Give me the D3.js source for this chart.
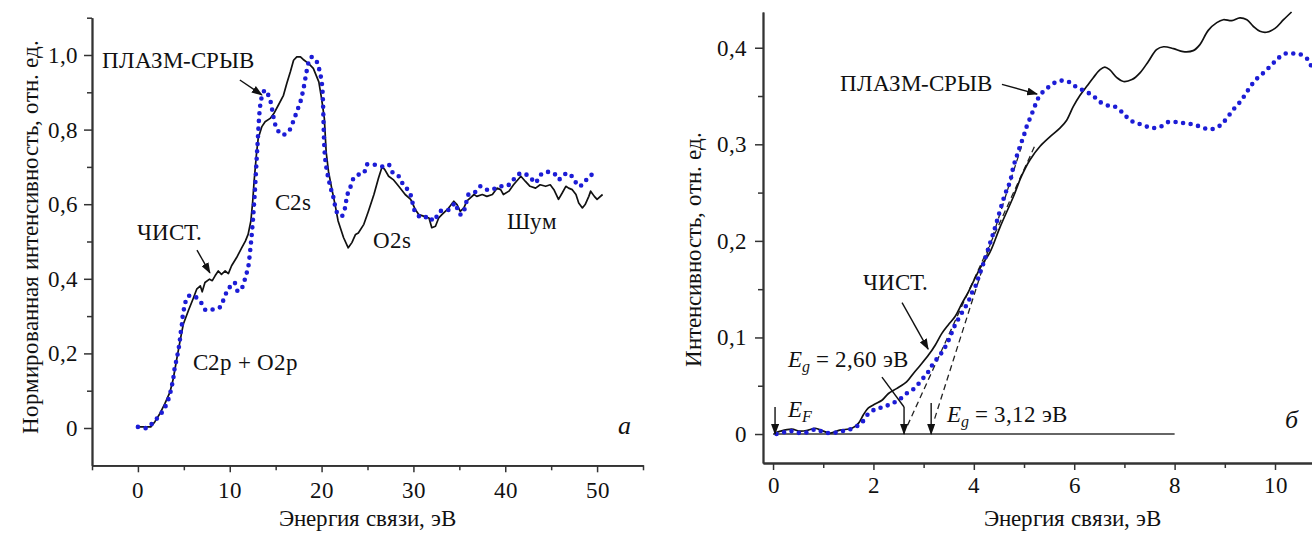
<!DOCTYPE html>
<html><head><meta charset="utf-8">
<script src="https://cdn.jsdelivr.net/npm/d3@7"></script>
<style>
@font-face{font-family:"RefSerif";font-style:normal;font-weight:400;
  src:local("Liberation Serif"),local("LiberationSerif"),local("LiberationSerif-Regular"),local("Liberation Serif Regular"),local("Times New Roman"),local("Tinos"),local("DejaVu Serif"),local("DejaVuSerif"),local("Noto Serif"),local("NotoSerif-Regular");}
@font-face{font-family:"RefSerif";font-style:italic;font-weight:400;
  src:local("Liberation Serif Italic"),local("LiberationSerif-Italic"),local("Times New Roman Italic"),local("DejaVu Serif Italic"),local("DejaVuSerif-Italic"),local("Noto Serif Italic");}
html,body{margin:0;padding:0;background:#fff;}
svg text{font-family:"RefSerif","Liberation Serif","DejaVu Serif","Noto Serif",serif;fill:#111;}
</style></head>
<body>
<svg id="c" width="1312" height="533"></svg>
<script>
// ---------- Panel a data ----------
const aCleanE = [0.2,0.95,1.4,1.85,2.4,2.95,3.5,3.85,4.2,4.6,4.95,5.5,6.0,6.4,6.8,7.0,7.3,7.8,8.1,8.4,8.75,9.1,9.5,9.85,10.2,10.75,11.3,11.7,12.0,12.3,12.5,12.65,12.9,13.1,13.5,13.85,14.4,14.8,15.3,15.85,16.2,16.6,16.95,17.3,17.7,18.0,18.6,19.1,19.7,20.0,20.3,20.5,20.75,21.1,21.5,21.8,22.4,22.9,23.3,23.7,24.0,24.6,25.1,25.7,26.2,26.6,26.9,27.3,27.8,28.4,29.1,29.7,30.2,30.6,31.1,31.7,32.0,32.4,32.75,33.1,33.7,34.0,34.4,34.75,35.1,35.5,35.8,36.2,36.6,36.9,37.5,38.0,38.6,39.1,39.5,39.8,40.4,40.9,41.7,42.2,42.7,43.3,43.8,44.4,44.9,45.3,45.8,46.2,46.6,46.9,47.3,47.7,48.0,48.4,48.7,49.1,49.3,49.7,50.0,50.6];
const aCleanI = [0.003,0.003,0.003,0.017,0.039,0.066,0.097,0.132,0.181,0.235,0.279,0.315,0.346,0.372,0.381,0.365,0.39,0.399,0.395,0.408,0.421,0.412,0.421,0.414,0.435,0.457,0.483,0.501,0.519,0.555,0.608,0.661,0.732,0.777,0.808,0.821,0.83,0.843,0.866,0.892,0.923,0.955,0.986,0.995,0.995,0.988,0.977,0.964,0.928,0.883,0.83,0.74,0.688,0.643,0.595,0.555,0.51,0.483,0.497,0.519,0.523,0.546,0.581,0.626,0.67,0.701,0.692,0.675,0.666,0.648,0.626,0.613,0.586,0.572,0.568,0.563,0.537,0.541,0.563,0.572,0.586,0.595,0.608,0.599,0.581,0.59,0.608,0.617,0.626,0.621,0.626,0.621,0.626,0.643,0.639,0.626,0.635,0.652,0.675,0.661,0.648,0.643,0.652,0.648,0.652,0.639,0.613,0.63,0.648,0.643,0.639,0.626,0.603,0.59,0.599,0.621,0.635,0.621,0.613,0.626];
const aPlasmaE = [0,0.95,1.7,2.5,3.0,3.4,3.67,3.85,4.0,4.2,4.4,4.55,4.65,4.8,4.9,5.1,5.4,6.0,6.8,7.4,8.3,9.0,9.4,9.85,10.5,10.9,11.4,11.7,12.0,12.2,12.4,12.7,13.0,13.3,13.5,13.85,14.4,14.75,15.1,15.7,16.4,16.9,17.3,17.7,18.0,18.3,18.6,18.95,19.5,19.8,20.05,20.4,20.9,21.3,21.7,22.2,22.6,22.75,23.1,23.5,24.0,24.6,24.9,25.7,26.6,27.3,27.8,28.4,28.9,29.5,29.85,30.0,30.6,31.1,31.7,32.2,32.9,33.7,34.2,34.6,34.9,35.3,35.7,36.0,36.6,37.3,38.0,38.6,39.3,39.9,40.4,40.9,41.7,42.6,43.3,43.7,44.4,45.3,45.8,46.4,46.9,47.5,48.0,48.6,49.1,50.0];
const aPlasmaI = [0.003,0.0,0.016,0.038,0.058,0.083,0.11,0.133,0.16,0.183,0.208,0.232,0.254,0.28,0.304,0.328,0.352,0.355,0.339,0.316,0.319,0.325,0.35,0.372,0.39,0.366,0.379,0.404,0.43,0.47,0.52,0.62,0.75,0.861,0.888,0.906,0.879,0.835,0.804,0.786,0.795,0.821,0.848,0.875,0.906,0.946,0.981,0.995,0.981,0.955,0.92,0.72,0.652,0.617,0.577,0.568,0.595,0.621,0.643,0.67,0.679,0.683,0.706,0.706,0.701,0.706,0.683,0.675,0.652,0.635,0.613,0.59,0.568,0.563,0.568,0.555,0.581,0.583,0.595,0.603,0.577,0.572,0.599,0.626,0.63,0.648,0.639,0.639,0.648,0.648,0.652,0.666,0.683,0.675,0.657,0.675,0.686,0.683,0.666,0.679,0.683,0.666,0.648,0.657,0.675,0.683];
const aXTicks = [0,10,20,30,40,50];
const aXMinor = [-5,5,15,25,35,45,55];
const aYTicks = [0,0.2,0.4,0.6,0.8,1.0];
const aYTickLabels = ["0","0,2","0,4","0,6","0,8","1,0"];
const aYMinor = [0.1,0.3,0.5,0.7,0.9,1.1];

// ---------- Panel б data ----------
const bCleanE = [0.04,0.15,0.37,0.54,0.7,0.84,1.0,1.14,1.33,1.57,1.7,1.8,1.9,2.03,2.17,2.3,2.46,2.66,2.8,2.93,3.1,3.23,3.36,3.49,3.63,3.76,3.89,4.02,4.16,4.32,4.52,4.79,4.95,5.12,5.32,5.52,5.72,5.85,5.98,6.12,6.25,6.38,6.51,6.61,6.71,6.85,6.98,7.15,7.31,7.48,7.64,7.78,7.98,8.17,8.37,8.5,8.67,8.84,8.97,9.14,9.3,9.44,9.57,9.7,9.83,10.0,10.17,10.33];
const bCleanI = [0.001,0.003,0.005,0.003,0.004,0.006,0.003,0.001,0.004,0.006,0.011,0.02,0.027,0.031,0.035,0.042,0.047,0.054,0.063,0.071,0.082,0.092,0.104,0.113,0.122,0.135,0.147,0.161,0.175,0.188,0.214,0.246,0.267,0.284,0.298,0.308,0.317,0.325,0.339,0.351,0.36,0.369,0.377,0.38,0.377,0.369,0.365,0.367,0.374,0.386,0.398,0.401,0.399,0.396,0.397,0.403,0.418,0.426,0.429,0.428,0.431,0.429,0.422,0.417,0.416,0.42,0.429,0.437];
const bPlasmaE = [0.07,0.24,0.39,0.54,0.7,0.86,1.0,1.15,1.3,1.45,1.6,1.77,1.9,2.05,2.2,2.34,2.5,2.66,2.81,2.96,3.1,3.19,3.33,3.45,3.53,3.6,3.68,3.79,3.89,3.96,4.04,4.11,4.16,4.4,4.62,4.72,4.79,4.85,4.92,4.99,5.05,5.12,5.19,5.25,5.32,5.46,5.62,5.77,5.92,6.05,6.22,6.38,6.51,6.68,6.81,6.98,7.11,7.25,7.41,7.54,7.71,7.87,8.04,8.17,8.32,8.47,8.64,8.77,8.92,9.04,9.17,9.29,9.4,9.5,9.62,9.77,9.93,10.06,10.21,10.36,10.51,10.65,10.75];
const bPlasmaI = [0,0.002,0.003,0.001,0.002,0.005,0.002,0.001,0.002,0.004,0.006,0.012,0.021,0.026,0.028,0.031,0.035,0.042,0.047,0.056,0.065,0.073,0.082,0.092,0.101,0.11,0.118,0.128,0.137,0.146,0.154,0.165,0.172,0.21,0.248,0.261,0.277,0.287,0.298,0.308,0.318,0.327,0.336,0.344,0.351,0.358,0.364,0.366,0.364,0.359,0.355,0.35,0.344,0.34,0.339,0.332,0.325,0.322,0.319,0.317,0.318,0.323,0.323,0.322,0.321,0.319,0.316,0.316,0.32,0.327,0.336,0.343,0.351,0.359,0.367,0.374,0.382,0.389,0.394,0.394,0.393,0.388,0.377];
const bTangentCleanE = [2.68, 5.22];
const bTangentCleanI = [0.009, 0.299];
const bTangentPlasmaE = [3.22, 4.95];
const bTangentPlasmaI = [0.016, 0.298];
const bZeroE = [0, 8];
const bXTicks = [0,2,4,6,8,10];
const bXMinor = [1,3,5,7,9,11];
const bYTicks = [0,0.1,0.2,0.3,0.4];
const bYTickLabels = ["0","0,1","0,2","0,3","0,4"];
const bYMinor = [0.05,0.15,0.25,0.35];

const BLUE = "#1c1cd6";
const svg = d3.select("#c");

function draw(){
svg.selectAll("*").remove();
// calibrate font size so a known label has the reference width (153 px)
const probe = svg.append("text").style("font-size","23px").text("ПЛАЗМ-СРЫВ");
const pw = probe.node().getComputedTextLength();
probe.remove();
const FONT = Math.max(16, Math.min(26, 23 * 153 / (pw || 153)));
const SUB = FONT * 0.7;

const defs = svg.append("defs");
defs.append("marker").attr("id","ah").attr("markerUnits","userSpaceOnUse")
  .attr("markerWidth",11).attr("markerHeight",8).attr("refX",10).attr("refY",4)
  .attr("orient","auto")
  .append("path").attr("d","M0,0 L11,4 L0,8 Z").attr("fill","#111");

function zip(E,I){return E.map((e,i)=>[e,I[i]]);}

function drawAxes(g, x, y, o){
  g.append("g").attr("transform",`translate(0,${y.range()[0]})`)
    .call(d3.axisBottom(x).tickValues(o.xt).tickSize(7).tickSizeOuter(0).tickPadding(o.xpad).tickFormat(d=>String(d)));
  g.append("g").attr("transform",`translate(0,${y.range()[0]})`)
    .call(d3.axisBottom(x).tickValues(o.xm).tickSize(5).tickSizeOuter(0).tickFormat(""));
  g.append("g").attr("transform",`translate(${x.range()[0]},0)`)
    .call(d3.axisLeft(y).tickValues(o.yt).tickSize(8).tickSizeOuter(0).tickPadding(o.ypad).tickFormat((d,i)=>o.yl[i]));
  g.append("g").attr("transform",`translate(${x.range()[0]},0)`)
    .call(d3.axisLeft(y).tickValues(o.ym).tickSize(5).tickSizeOuter(0).tickFormat(""));
  g.selectAll("g").attr("font-family",null);
  g.selectAll(".domain").attr("stroke","#333").attr("stroke-width",1.8);
  g.selectAll(".tick line").attr("stroke","#333").attr("stroke-width",1.5);
  g.selectAll(".tick text").style("font-size",FONT+"px").attr("fill","#111");
}

function label(g, x, y, e, i, txt, opts={}){
  const t = g.append("text").attr("x",x(e)).attr("y",y(i)).style("font-size",(opts.size||FONT)+"px");
  if(opts.italic) t.style("font-style","italic");
  t.text(txt);
  return t;
}
function arrow(g, x, y, e1,i1,e2,i2, head=true){
  const l = g.append("line").attr("x1",x(e1)).attr("y1",y(i1)).attr("x2",x(e2)).attr("y2",y(i2))
    .attr("stroke","#111").attr("stroke-width",1.4);
  if(head) l.attr("marker-end","url(#ah)");
}
function egLabel(g,x,y,e,i,val){
  const t = g.append("text").attr("x",x(e)).attr("y",y(i)).style("font-size",FONT+"px");
  t.append("tspan").style("font-style","italic").text("E");
  t.append("tspan").style("font-style","italic").style("font-size",SUB+"px").attr("dy",5).text("g");
  t.append("tspan").attr("dy",-5).text(" = "+val+" эВ");
}

// ---------- Panel a ----------
{
  const x = d3.scaleLinear().domain([-5,55]).range([92,643]);
  const y = d3.scaleLinear().domain([-0.1,1.1]).range([465.3,17.7]);
  const g = svg.append("g");
  drawAxes(g,x,y,{xt:aXTicks,xm:aXMinor,yt:aYTicks,yl:aYTickLabels,ym:aYMinor,xpad:9,ypad:6});
  const line = d3.line().x(d=>x(d[0])).y(d=>y(d[1]));
  g.append("path").datum(zip(aCleanE,aCleanI)).attr("d",line)
    .attr("fill","none").attr("stroke","#111").attr("stroke-width",1.7).attr("stroke-linejoin","round");
  g.append("path").datum(zip(aPlasmaE,aPlasmaI)).attr("d",line.curve(d3.curveCatmullRom))
    .attr("fill","none").attr("stroke",BLUE).attr("stroke-width",4.6)
    .attr("stroke-linecap","round").attr("stroke-dasharray","0,7.6");
  label(g,x,y,-3.92,0.965,"ПЛАЗМ-СРЫВ");
  arrow(g,x,y,11.1,0.933,13.5,0.893);
  label(g,x,y,14.9,0.584,"C2s");
  label(g,x,y,-0.1,0.504,"ЧИСТ.");
  arrow(g,x,y,6.43,0.477,7.84,0.416);
  label(g,x,y,6.0,0.155,"C2p + O2p");
  label(g,x,y,25.6,0.483,"O2s");
  label(g,x,y,40.2,0.534,"Шум");
  label(g,x,y,52.3,-0.016,"a",{italic:true,size:FONT*1.12});
  g.append("text").attr("x",(x.range()[0]+x.range()[1])/2).attr("y",526).attr("text-anchor","middle")
    .style("font-size",FONT+"px").text("Энергия связи, эВ");
  g.append("text").attr("transform","translate(38,237) rotate(-90)").attr("text-anchor","middle")
    .style("font-size",FONT+"px").text("Нормированная интенсивность, отн. ед.");
}

// ---------- Panel б ----------
{
  const x = d3.scaleLinear().domain([-0.2,11]).range([763,1325.2]);
  const y = d3.scaleLinear().domain([-0.03,0.437]).range([463,12]);
  const g = svg.append("g");
  drawAxes(g,x,y,{xt:bXTicks,xm:bXMinor,yt:bYTicks,yl:bYTickLabels,ym:bYMinor,xpad:7,ypad:8});
  const line = d3.line().x(d=>x(d[0])).y(d=>y(d[1]));
  g.append("path").datum([[bZeroE[0],0],[bZeroE[1],0]]).attr("d",line)
    .attr("fill","none").attr("stroke","#333").attr("stroke-width",1.6);
  g.append("path").datum(zip(bTangentCleanE,bTangentCleanI)).attr("d",line)
    .attr("fill","none").attr("stroke","#222").attr("stroke-width",1.3).attr("stroke-dasharray","6,4");
  g.append("path").datum(zip(bTangentPlasmaE,bTangentPlasmaI)).attr("d",line)
    .attr("fill","none").attr("stroke","#222").attr("stroke-width",1.3).attr("stroke-dasharray","6,4");
  const cl = d3.line().x(d=>x(d[0])).y(d=>y(d[1])).curve(d3.curveCatmullRom);
  g.append("path").datum(zip(bCleanE,bCleanI)).attr("d",cl)
    .attr("fill","none").attr("stroke","#111").attr("stroke-width",1.7);
  g.append("path").datum(zip(bPlasmaE,bPlasmaI)).attr("d",cl)
    .attr("fill","none").attr("stroke",BLUE).attr("stroke-width",4.6)
    .attr("stroke-linecap","round").attr("stroke-dasharray","0,7.6");
  label(g,x,y,1.33,0.355,"ПЛАЗМ-СРЫВ");
  arrow(g,x,y,4.56,0.362,5.26,0.352);
  label(g,x,y,1.79,0.149,"ЧИСТ.");
  arrow(g,x,y,2.57,0.136,3.09,0.088);
  egLabel(g,x,y,0.3,0.069,"2,60");
  arrow(g,x,y,2.17,0.059,2.61,0.028,false);
  arrow(g,x,y,2.61,0.028,2.61,0.0);
  const tF = g.append("text").attr("x",x(0.3)).attr("y",y(0.018)).style("font-size",FONT+"px");
  tF.append("tspan").style("font-style","italic").text("E");
  tF.append("tspan").style("font-style","italic").style("font-size",SUB+"px").attr("dy",5).text("F");
  arrow(g,x,y,0.04,0.028,0.04,0.0);
  arrow(g,x,y,3.15,0.032,3.15,0.0);
  egLabel(g,x,y,3.47,0.012,"3,12");
  label(g,x,y,10.2,0.006,"б",{italic:true,size:FONT*1.12});
  g.append("text").attr("x",1072).attr("y",526).attr("text-anchor","middle")
    .style("font-size",FONT+"px").text("Энергия связи, эВ");
  g.append("text").attr("transform","translate(701,249) rotate(-90)").attr("text-anchor","middle")
    .style("font-size",FONT+"px").text("Интенсивность, отн. ед.");
}
}
draw();
if (document.fonts && document.fonts.load) {
  document.fonts.load("23px RefSerif", "ПЛАЗМ").then(draw).catch(()=>{});
}
</script>
</body></html>
